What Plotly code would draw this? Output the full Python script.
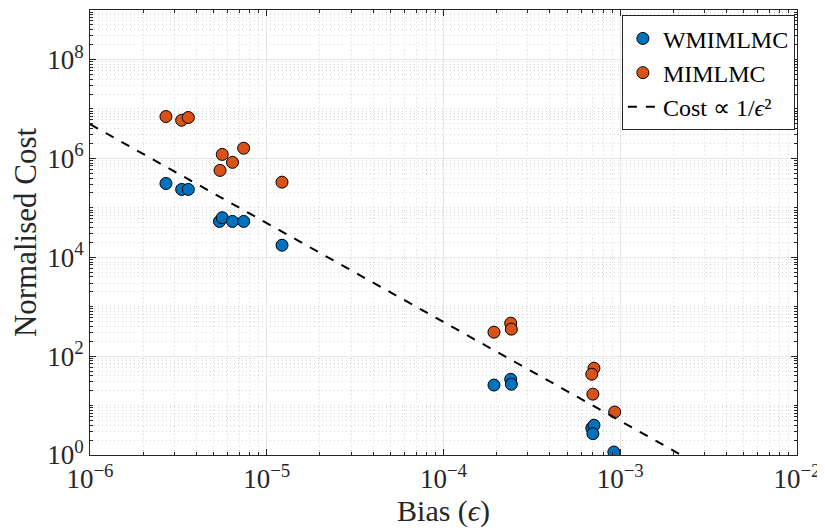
import plotly.graph_objects as go

# WMIMLMC
wm_bias = [2.69e-6, 3.3e-6, 3.6e-6, 5.4e-6, 5.6e-6, 6.4e-6, 7.4e-6, 1.22e-5,
           1.93e-4, 2.4e-4, 2.42e-4, 6.9e-4, 7.1e-4, 7.0e-4, 9.2e-4]
wm_cost = [3.1e5, 2.35e5, 2.35e5, 5.3e4, 6.3e4, 5.3e4, 5.3e4, 1.75e4,
           26, 34, 27, 3.5, 4.0, 2.7, 1.15]

# MIMLMC
mi_bias = [2.69e-6, 3.3e-6, 3.6e-6, 5.6e-6, 7.4e-6, 6.4e-6, 5.44e-6, 1.22e-5,
           1.93e-4, 2.4e-4, 2.42e-4, 7.1e-4, 6.9e-4, 7.0e-4, 9.3e-4]
mi_cost = [7.0e6, 5.9e6, 6.7e6, 1.2e6, 1.6e6, 8.3e5, 5.7e5, 3.3e5,
           305, 464, 351, 57, 43, 17, 7.4]

# reference line Cost ∝ 1/eps^2
line_bias = [1e-6, 1e-2]
line_cost = [4.9e6, 4.9e-2]

x_tickvals = [1e-6, 1e-5, 1e-4, 1e-3, 1e-2]
x_ticktext = ["10<sup>−6</sup>", "10<sup>−5</sup>", "10<sup>−4</sup>", "10<sup>−3</sup>", "10<sup>−2</sup>"]
y_tickvals = [1e0, 1e2, 1e4, 1e6, 1e8]
y_ticktext = ["10<sup>0</sup>", "10<sup>2</sup>", "10<sup>4</sup>", "10<sup>6</sup>", "10<sup>8</sup>"]

FONT = "Liberation Serif"
TXT = "#262626"

fig = go.Figure()
fig.add_trace(go.Scatter(x=wm_bias, y=wm_cost, mode="markers", name="WMIMLMC",
                         marker=dict(size=12, color="#0072BD", line=dict(color="black", width=1))))
fig.add_trace(go.Scatter(x=mi_bias, y=mi_cost, mode="markers", name="MIMLMC",
                         marker=dict(size=12, color="#D95319", line=dict(color="black", width=1))))
fig.add_trace(go.Scatter(x=line_bias, y=line_cost, mode="lines",
                         name="Cost ∝ 1/<i>ϵ</i>²",
                         line=dict(color="black", width=2, dash="dash")))

axis_common = dict(
    type="log", showline=True, linecolor=TXT, linewidth=1, mirror="ticks",
    ticks="inside", ticklen=6, tickcolor=TXT, automargin=False,
    showgrid=True, gridcolor="#E6E6E6", gridwidth=1, zeroline=False,
    tickfont=dict(family=FONT, size=27, color=TXT),
    minor=dict(dtick="D1", ticks="inside", ticklen=3, tickcolor=TXT,
               showgrid=True, gridcolor="#D6D6D6", griddash="1px,3px", gridwidth=1),
)

fig.update_xaxes(**axis_common, range=[-6, -2], tickmode="array",
                 tickvals=x_tickvals, ticktext=x_ticktext,
                 title=dict(text="Bias (<i>ϵ</i>)", font=dict(family=FONT, size=30, color=TXT),
                            standoff=2))
fig.update_yaxes(**axis_common, range=[0, 9], tickmode="array",
                 tickvals=y_tickvals, ticktext=y_ticktext,
                 title=dict(text="Normalised Cost", font=dict(family=FONT, size=31, color=TXT),
                            standoff=4))

fig.update_layout(
    width=817, height=522,
    margin=dict(l=82, r=28, t=2, b=75),
    plot_bgcolor="white", paper_bgcolor="white",
    font=dict(family=FONT, color=TXT),
    legend=dict(x=0.997, y=0.988, xanchor="right", yanchor="top",
                bgcolor="white", bordercolor=TXT, borderwidth=1,
                font=dict(family=FONT, size=24, color="black"),
                itemwidth=30, tracegroupgap=0),
    showlegend=True,
)

fig.write_html("out.html")
